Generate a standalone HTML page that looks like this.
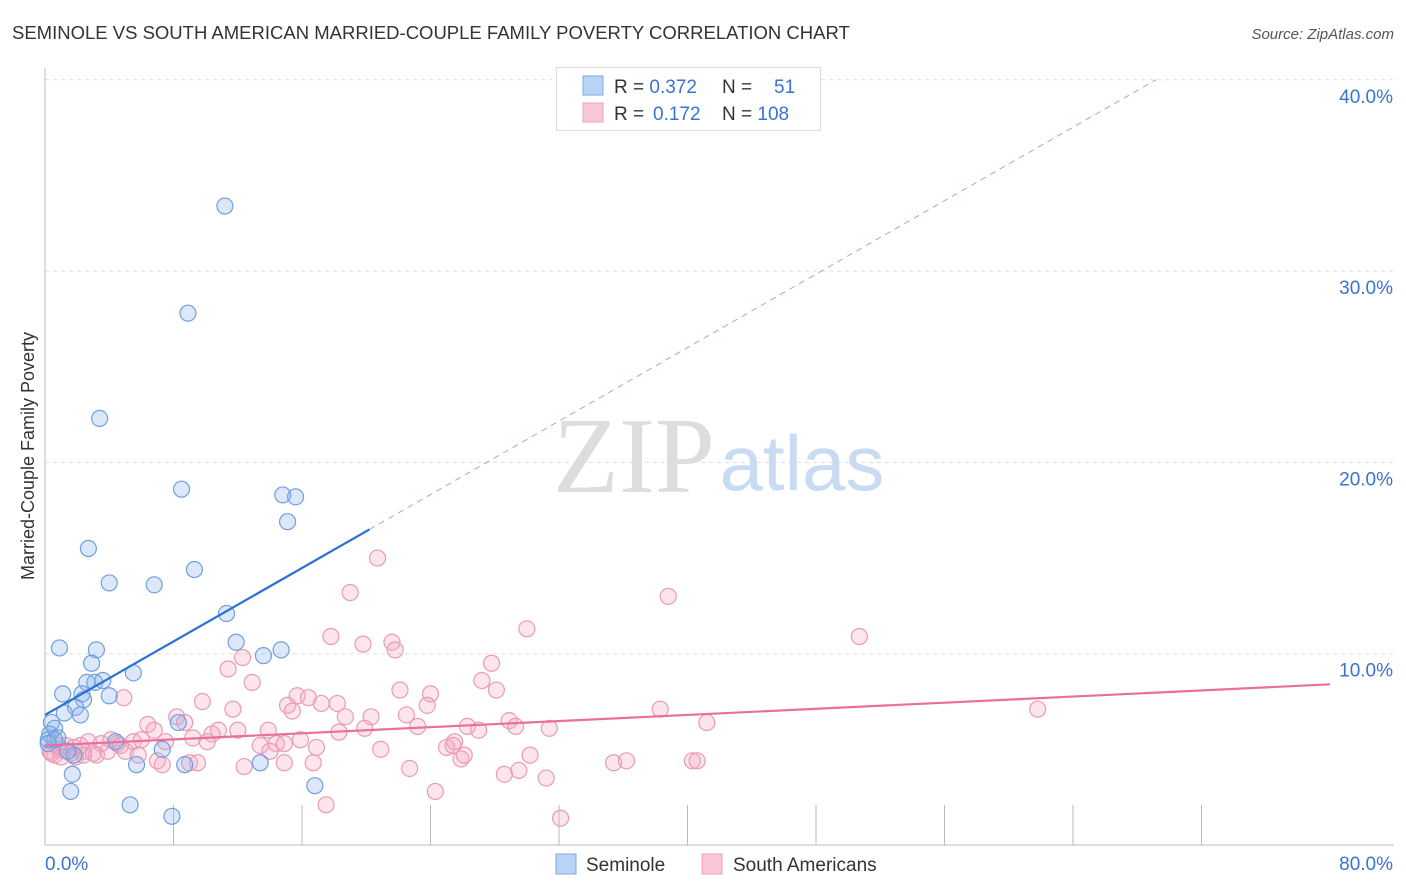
<!DOCTYPE html>
<html><head><meta charset="utf-8">
<style>
body{margin:0;background:#fff;font-family:"Liberation Sans",sans-serif;}
#wrap{position:relative;width:1406px;height:892px;overflow:hidden;}
</style></head><body>
<div id="wrap">
<svg id="svg" width="1406" height="892">
<text x="12" y="39" font-size="18.5" fill="#333">SEMINOLE VS SOUTH AMERICAN MARRIED-COUPLE FAMILY POVERTY CORRELATION CHART</text>
<text x="1394" y="39" font-size="15" fill="#555" font-style="italic" text-anchor="end">Source: ZipAtlas.com</text>
<text x="34" y="456" font-size="18" fill="#333" text-anchor="middle" transform="rotate(-90 34 456)">Married-Couple Family Poverty</text>
<g>
<text x="634" y="492" font-size="108" fill="#ddd" font-family="Liberation Serif,serif" text-anchor="middle">ZIP</text>
<text x="802" y="490" font-size="78" fill="#c9daf3" text-anchor="middle">atlas</text>
</g>
<g id="grid"></g><g id="marks"></g><g id="lines"></g>
<g>
<rect x="556.5" y="67.5" width="264" height="63" fill="#fff" stroke="#ddd"/>
<rect x="583" y="76" width="20" height="19" fill="#b9d3f5" stroke="#7fa8e3"/>
<rect x="583" y="103" width="20" height="19" fill="#f9c6d6" stroke="#eda0ba"/>
<text x="614" y="93" font-size="19" fill="#333">R = <tspan fill="#3b73d0">0.372</tspan></text>
<text x="722" y="93" font-size="19" fill="#333">N = <tspan fill="#3b73d0" x="774">51</tspan></text>
<text x="614" y="120" font-size="19" fill="#333">R = <tspan fill="#3b73d0" x="653">0.172</tspan></text>
<text x="722" y="120" font-size="19" fill="#333">N = <tspan fill="#3b73d0">108</tspan></text>
</g>
<g>
<rect x="556" y="854" width="20" height="20" fill="#b9d3f5" stroke="#7fa8e3"/>
<text x="586" y="871" font-size="19" fill="#333">Seminole</text>
<rect x="702" y="854" width="20" height="20" fill="#f9c6d6" stroke="#eda0ba"/>
<text x="733" y="871" font-size="19" fill="#333">South Americans</text>
</g>
</svg>
</div>
<script>
const yTicks=[10,20,30,40];
const xTickLabels=["0.0%","80.0%"];
const blueX=[11.2,8.9,3.4,8.5,14.8,15.6,15.1,2.7,9.3,4.0,6.8,11.3,0.9,11.9,3.2,14.7,13.6,2.9,5.5,1.1,2.6,3.1,3.6,2.3,4.0,2.4,1.9,1.2,2.2,0.4,0.6,0.3,0.2,0.8,4.4,8.3,7.3,1.8,1.7,5.7,8.7,13.4,1.6,5.3,7.9,16.8,0.6,0.2,1.4];
const blueY=[33.4,27.8,22.3,18.6,18.3,18.2,16.9,15.5,14.4,13.7,13.6,12.1,10.3,10.6,10.2,10.2,9.9,9.5,9.0,7.9,8.5,8.5,8.6,7.9,7.8,7.6,7.2,6.9,6.8,6.4,6.1,5.8,5.5,5.6,5.4,6.4,5.0,4.7,3.7,4.2,4.2,4.3,2.8,2.1,1.5,3.1,5.5,5.3,4.9];
const pinkX=[20.7,19.0,38.8,50.7,30.0,17.8,19.8,21.6,21.8,12.3,27.8,11.4,12.9,27.2,22.1,24.0,15.7,16.4,9.8,4.9,15.1,17.2,18.2,23.8,28.1,38.3,61.8,11.7,15.4,8.2,18.7,20.3,22.5,41.2,6.4,8.7,6.8,10.8,10.4,12.0,13.9,23.2,26.3,28.9,29.3,31.4,19.9,18.3,9.2,15.9,7.5,10.1,5.5,6.0,2.7,3.5,4.1,4.5,13.4,14.4,14.9,16.9,20.9,25.0,25.5,25.9,25.4,27.0,14.0,3.9,3.2,2.4,1.6,1.9,0.9,0.3,0.6,5.8,7.0,9.0,9.5,7.3,12.4,14.9,16.7,26.1,30.2,35.4,36.2,40.3,40.6,22.7,28.6,29.5,31.2,24.3,17.5,32.1,2.4,1.3,0.8,2.2,4.7,0.4,1.0,1.8,3.0,5.0];
const pinkY=[15.0,13.2,13.0,10.9,11.3,10.9,10.5,10.6,10.2,9.8,9.5,9.2,8.5,8.6,8.1,7.9,7.8,7.7,7.5,7.7,7.3,7.4,7.4,7.3,8.1,7.1,7.1,7.1,7.0,6.7,6.7,6.7,6.8,6.4,6.3,6.4,6.0,6.0,5.8,6.0,6.0,6.2,6.2,6.5,6.2,6.1,6.1,5.9,5.6,5.5,5.4,5.4,5.4,5.5,5.4,5.3,5.5,5.3,5.2,5.3,5.3,5.1,5.0,5.1,5.4,4.5,5.2,6.0,4.9,4.9,4.7,4.9,4.8,4.6,5.0,4.9,4.7,4.7,4.4,4.3,4.3,4.2,4.1,4.3,4.3,4.7,4.7,4.3,4.4,4.4,4.4,4.0,3.7,3.9,3.5,2.8,2.1,1.4,4.7,5.2,5.2,5.2,5.2,4.8,4.6,5.1,4.8,4.9];
const blueTrend=[6.8,0.48];
const pinkTrend=[5.2,0.04];
const NS="http://www.w3.org/2000/svg";
const X=v=>45+v*(1285/80);
const Y=v=>845-v*19.13;
function mk(tag,attrs,parent){const e=document.createElementNS(NS,tag);for(const k in attrs)e.setAttribute(k,attrs[k]);parent.appendChild(e);return e;}
const grid=document.getElementById('grid');
for(const t of yTicks){
 const g=mk('line',{x1:45,x2:1394,y1:Y(t),y2:Y(t),stroke:'#ddd','stroke-dasharray':'4,4'},grid);
 
 
 const l=mk('text',{x:1393,y:Y(t)+23,'font-size':19,fill:'#3b73d0','text-anchor':'end'},grid);
 l.textContent=t.toFixed(1)+'%';
 
 
}
const ax=mk('line',{x1:45,x2:45,y1:68,y2:845,stroke:'#bbb'},grid);


const bx=mk('line',{x1:45,x2:1394,y1:845,y2:845,stroke:'#bbb'},grid);


for(let i=0;i<=10;i++){
 const t=mk('line',{x1:X(i*8),x2:X(i*8),y1:845,y2:i%10==0?845:805,stroke:'#bbb'},grid);
 
 
}
const xl0=mk('text',{x:45,y:870,'font-size':19,fill:'#3b73d0'},grid);xl0.textContent=xTickLabels[0];


const xl1=mk('text',{x:1393,y:870,'font-size':19,fill:'#3b73d0','text-anchor':'end'},grid);xl1.textContent=xTickLabels[1];


const marks=document.getElementById('marks');
pinkX.forEach((x,i)=>{const c=mk('circle',{cx:X(x),cy:Y(pinkY[i]),r:8,fill:'rgba(246,170,196,0.3)',stroke:'#eb9ab6','stroke-width':1.2},marks);
 
 });
blueX.forEach((x,i)=>{const c=mk('circle',{cx:X(x),cy:Y(blueY[i]),r:8,fill:'rgba(140,180,235,0.3)',stroke:'#6f9fe0','stroke-width':1.2},marks);
 
 });
const lines=document.getElementById('lines');
const bs=mk('line',{x1:X(0),y1:Y(blueTrend[0]),x2:X(20.2),y2:Y(blueTrend[0]+blueTrend[1]*20.2),stroke:'#2a6fd6','stroke-width':2.2},lines);


const xe=(40-blueTrend[0])/blueTrend[1];
const bd=mk('line',{x1:X(20.2),y1:Y(blueTrend[0]+blueTrend[1]*20.2),x2:X(xe),y2:Y(40),stroke:'#8fb0e3','stroke-width':1,'stroke-dasharray':'6,5'},lines);


const ps=mk('line',{x1:X(0),y1:Y(pinkTrend[0]),x2:X(80),y2:Y(pinkTrend[0]+pinkTrend[1]*80),stroke:'#e8709a','stroke-width':2.2},lines);


</script>
</body></html>
